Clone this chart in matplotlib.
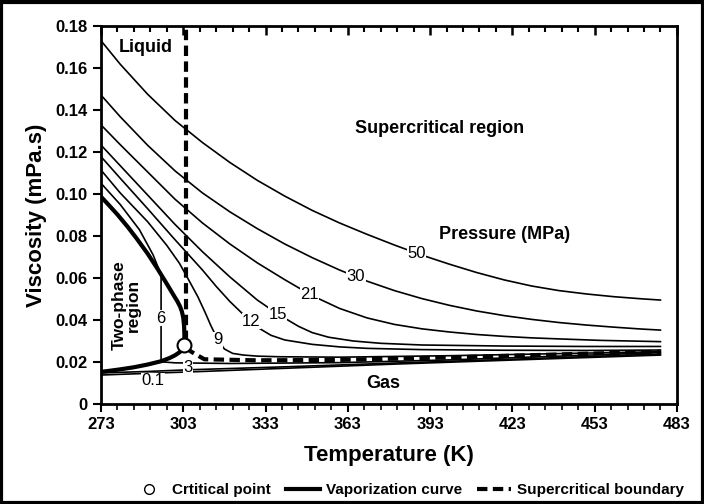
import matplotlib
import matplotlib.pyplot as plt
from matplotlib.lines import Line2D
from matplotlib.patches import Rectangle
from matplotlib.ticker import FixedLocator, MultipleLocator, FuncFormatter

matplotlib.use("agg")
plt.rcParams["font.family"] = ["Liberation Sans", "DejaVu Sans"]

# isobars (MPa): temperature (K) and viscosity (mPa.s)
t_50 = [273, 280, 290, 300, 310, 320, 330, 340, 350, 360, 370, 380, 390, 400,
        410, 420, 430, 440, 450, 460, 470, 477]
v_50 = [0.173, 0.1618, 0.1475, 0.135, 0.1245, 0.115, 0.1065, 0.099, 0.0922, 0.0862, 0.0808,
        0.0757, 0.0709, 0.0666, 0.0626, 0.0591, 0.0562, 0.054, 0.0524, 0.0511, 0.0501, 0.0495]
t_30 = [273, 280, 290, 300, 310, 320, 330, 340, 350, 360, 370, 380, 390, 400,
        410, 420, 430, 440, 450, 460, 470, 477]
v_30 = [0.1471, 0.1368, 0.1232, 0.111, 0.1005, 0.0915, 0.0835, 0.0762, 0.0697, 0.0638, 0.0585,
        0.054, 0.0502, 0.047, 0.0443, 0.0421, 0.0403, 0.0388, 0.0376, 0.0366, 0.0357, 0.0352]
t_21 = [273, 280, 290, 300, 310, 320, 330, 340, 350, 360, 370, 380, 390, 400,
        410, 420, 430, 440, 455, 477]
v_21 = [0.1329, 0.1235, 0.1105, 0.0975, 0.0862, 0.0762, 0.0672, 0.0592, 0.0516, 0.0455, 0.041,
        0.0379, 0.0358, 0.0343, 0.0331, 0.0322, 0.0315, 0.031, 0.0303, 0.0297]
t_15 = [273, 280, 290, 300, 310, 320, 330, 337.5, 345, 350, 356, 365, 375, 390, 420, 450, 477]
v_15 = [0.1233, 0.1135, 0.0995, 0.0855, 0.0725, 0.0605, 0.0495, 0.0428, 0.037, 0.034, 0.0318,
        0.030, 0.0289, 0.0281, 0.0276, 0.0274, 0.0274]
t_12 = [273, 280, 290, 300, 310, 315, 320, 325, 328, 331, 335, 340, 350, 360, 370, 390, 420,
        450, 477]
v_12 = [0.1178, 0.1075, 0.093, 0.0782, 0.0638, 0.056, 0.0488, 0.0425, 0.0392, 0.0358, 0.0327,
        0.0305, 0.0284, 0.0272, 0.0265, 0.0259, 0.0256, 0.0255, 0.0257]
t_9 = [273, 280, 290, 297, 301.6, 305, 308.3, 311, 313, 315.6, 318, 321, 325, 330, 338, 360,
       400, 440, 477]
v_9 = [0.1114, 0.1005, 0.0868, 0.0755, 0.067, 0.059, 0.0511, 0.0435, 0.0375, 0.0305, 0.0262,
       0.0241, 0.0233, 0.0228, 0.0225, 0.0223, 0.023, 0.024, 0.0249]
t_6 = [273, 280, 287, 292, 294.9, 294.9, 300, 320, 360, 400, 440, 477]
v_6 = [0.1051, 0.095, 0.083, 0.071, 0.0615, 0.0201, 0.0196, 0.0193, 0.0197, 0.021, 0.0228, 0.0245]
t_3 = [273, 290, 305, 340, 380, 420, 477]
v_3 = [0.0148, 0.0155, 0.0163, 0.0177, 0.0195, 0.0212, 0.0238]
t_01 = [273, 290, 310, 340, 380, 420, 477]
v_01 = [0.0138, 0.0146, 0.0155, 0.0170, 0.0190, 0.0208, 0.0233]

isobars = [(t_50, v_50), (t_30, v_30), (t_21, v_21), (t_15, v_15), (t_12, v_12),
           (t_9, v_9), (t_6, v_6), (t_3, v_3), (t_01, v_01)]

# inline pressure labels
lab_text = ["50", "30", "21", "15", "12", "9", "6", "3", "0.1"]
lab_t = [388, 366, 349, 337.5, 327.8, 315.6, 294.9, 304.7, 292]
lab_v = [0.0718, 0.0605, 0.0523, 0.0428, 0.0394, 0.0305, 0.0408, 0.0172, 0.0112]

# vaporization curve (saturated liquid + saturated vapour)
t_liq = [273, 276, 279, 282.7, 286, 290, 293.7, 297, 299.8, 300.8, 301.8, 302.5, 303, 303.3,
         303.4, 303.4]
v_liq = [0.0987, 0.0945, 0.0902, 0.0844, 0.0788, 0.0716, 0.0642, 0.0572, 0.0511, 0.049,
         0.0465, 0.044, 0.041, 0.037, 0.033, 0.028]
t_vap = [303.4, 302.8, 301.8, 300, 298, 295, 290, 285, 280, 276, 273]
v_vap = [0.028, 0.0265, 0.0248, 0.0232, 0.0219, 0.0204, 0.0188, 0.0175, 0.0165, 0.0158, 0.0153]

# critical point and supercritical boundary
t_crit, v_crit = 303.4, 0.028
t_sc_vert = [304.1, 304.1]
v_sc_vert = [0.03, 0.18]
t_sc = [303.8, 305.9, 310.7, 330, 360, 400, 440, 477]
v_sc = [0.027, 0.0249, 0.0213, 0.0208, 0.021, 0.0222, 0.0236, 0.0249]

x_major = list(range(273, 484, 30))
x_minor = list(range(273, 484, 6))

fig = plt.figure(figsize=(7.04, 5.04), dpi=100)
ax = fig.add_axes([0.1435, 0.1984, 0.818, 0.75])

for t, v in isobars:
    ax.plot(t, v, color="black", lw=1.2, zorder=2)

ax.plot(t_liq, v_liq, color="black", lw=3, zorder=3, solid_joinstyle="round")
ax.plot(t_vap, v_vap, color="black", lw=3, zorder=3, solid_joinstyle="round")
ax.plot(t_sc_vert, v_sc_vert, color="black", lw=3, ls=(0, (2.5, 1.3)), zorder=3)
ax.plot(t_sc, v_sc, color="black", lw=3, ls=(0, (2.5, 1.3)), zorder=3)
ax.plot([t_crit], [v_crit], marker="o", ms=10, mfc="white", mec="black", mew=1.5,
        ls="none", zorder=5)

for s, t, v in zip(lab_text, lab_t, lab_v):
    ax.text(t, v, s, fontsize=12, ha="center", va="center", zorder=4,
            bbox=dict(fc="white", ec="none", pad=0.3))

bold = dict(fontweight="bold", fontsize=13)
ax.text(289.4, 0.170, "Liquid", ha="center", va="center", **bold)
ax.text(396.6, 0.131, "Supercritical region", ha="center", va="center", **bold)
ax.text(420, 0.0805, "Pressure (MPa)", ha="center", va="center", **bold)
ax.text(375.9, 0.010, "Gas", ha="center", va="center", **bold)
ax.text(282.2, 0.047, "Two-phase\nregion", ha="center", va="center", rotation=90,
        fontsize=12.5, fontweight="bold", linespacing=1.0)

ax.set_xlim(273, 483)
ax.set_ylim(0, 0.18)
ax.xaxis.set_major_locator(FixedLocator(x_major))
ax.xaxis.set_minor_locator(FixedLocator(x_minor))
ax.yaxis.set_major_locator(MultipleLocator(0.02))
ax.yaxis.set_major_formatter(FuncFormatter(lambda y, p: "0" if abs(y) < 1e-9 else f"{y:.2f}"))
ax.tick_params(axis="x", which="both", direction="out", top=False)
ax.tick_params(axis="x", which="major", length=6, width=1.5)
ax.tick_params(axis="x", which="minor", length=4, width=1.2)
ax.tick_params(axis="y", which="major", direction="out", length=6, width=1.5, right=False)
for lbl in ax.get_xticklabels() + ax.get_yticklabels():
    lbl.set_fontweight("bold")
    lbl.set_fontsize(12)

# inward ticks hanging from the top spine, drawn as vlines in axes-fraction height
ax.vlines(x_major, 0.975, 1.0, colors="black", linewidths=1.8,
          transform=ax.get_xaxis_transform(), clip_on=False, zorder=6)
ax.vlines([x for x in x_minor if x not in x_major], 0.985, 1.0, colors="black",
          linewidths=1.5, transform=ax.get_xaxis_transform(), clip_on=False, zorder=6)

for sp in ax.spines.values():
    sp.set_linewidth(2)

ax.set_xlabel("Temperature (K)", fontsize=16, fontweight="bold", labelpad=9)
ax.set_ylabel("Viscosity (mPa.s)", fontsize=16, fontweight="bold", labelpad=6)

handles = [
    Line2D([], [], marker="o", ms=7, mfc="white", mec="black", ls="none"),
    Line2D([], [], color="black", lw=3),
    Line2D([], [], color="black", lw=3, ls=(0, (2.5, 1.3))),
]
fig.legend(handles, ["Crtitical point", "Vaporization curve", "Supercritical boundary"],
           loc="center", bbox_to_anchor=(0.58, 0.028), ncol=3, frameon=False,
           prop=dict(weight="bold", size=11), handlelength=2.2, columnspacing=1.0,
           handletextpad=0.4)

# black frame round the whole picture
fig.patches.append(Rectangle((0.002, 0.002), 0.996, 0.994, transform=fig.transFigure,
                             fill=False, ec="black", lw=3))

fig.savefig("out.png", dpi=100)
